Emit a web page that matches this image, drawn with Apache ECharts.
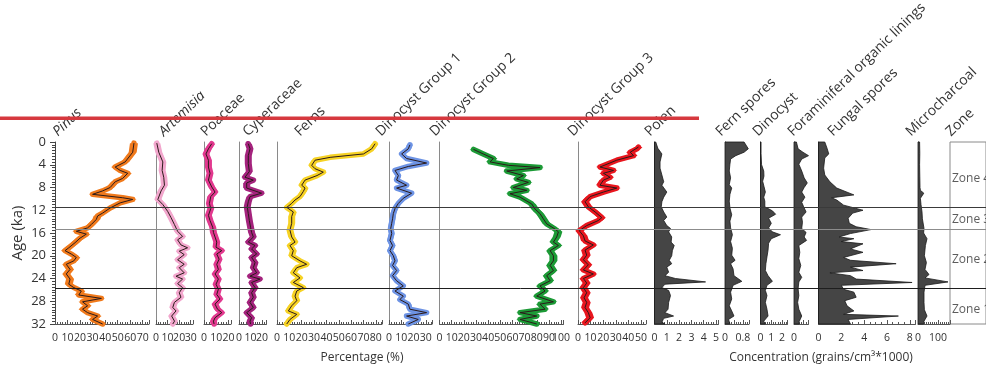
<!DOCTYPE html>
<html><head><meta charset="utf-8">
<script src="https://cdn.jsdelivr.net/npm/echarts/dist/echarts.min.js"></script>
<style>html,body{margin:0;padding:0;background:#fff}#c{width:986px;height:369px}</style>
</head><body><div id="c"></div>
<script>
// ---------- DATA (age in ka, value) ----------
const pinusAge = [0.2,1.8,3.5,4.4,5.0,5.5,6.4,7.0,8.0,8.6,9.2,9.8,10.1,10.7,11.6,12.5,13.0,13.6,14.5,15.1,15.7,16.2,16.9,17.7,18.6,19.1,19.7,20.3,20.9,21.5,22.4,23.2,24.1,25.0,25.6,26.2,26.9,27.5,28.1,28.8,29.4,30.0,30.6,31.2,32.0];
const pinusVal = [63,62,56,48,52,58,54,48,44,38,30,54,62,52,44,38,34,33,29,26,17,25,20,16,11,8,13,17,15,9,12,9,12,11,15,21,19,37,22,26,22,26,34,30,38];

const artemisiaAge = [0.2,1.8,3.5,5.0,6.2,7.6,8.6,10.1,11.0,12.2,13.3,14.5,15.7,16.6,17.2,18.1,18.6,19.2,19.8,20.7,21.5,22.1,23.0,23.6,24.1,24.9,25.6,26.5,27.3,28.2,29.1,29.7,30.6,31.5,32.0];
const artemisiaVal = [0.7,2.4,5.9,5.3,6.7,7.3,4.4,1.6,5.9,10.1,13,15.9,18.7,23,18.7,21.6,27.3,20.1,24.4,18.7,24.4,20.1,24.4,17.3,23,18.7,23,20.1,21.6,15.9,14.5,17.3,13.5,16,14.5];

const poaceaeAge = [0.3,1.2,2.1,3.2,4.4,5.5,6.7,7.9,8.8,9.6,10.8,11.7,12.9,13.8,15.0,15.9,16.7,17.6,18.5,19.1,19.7,20.6,21.5,22.4,23.2,24.1,25.0,25.9,26.8,27.6,28.5,29.4,30.0,30.9,31.5,32.0];
const poaceaeVal = [6.3,3.6,1.6,3.6,3.6,4.9,3.6,6.3,9,5.5,4.4,5.5,3.6,4.9,7.1,7.7,9,10.4,9.8,14.5,10.4,12.3,10.4,11.7,9,11.7,9.8,11.7,10.4,13,9,11,14.5,9,7.7,8.2];

const cyperaceaeAge = [0.3,1.2,2.4,3.8,5.2,6.2,6.7,7.2,8.1,9.0,9.6,10.5,11.4,12.6,13.8,15.0,15.9,16.7,17.6,18.2,18.8,19.7,20.3,21.2,22.1,23.0,23.6,24.1,24.7,25.6,26.5,27.3,28.2,29.1,30.0,30.9,31.5,32.0];
const cyperaceaeVal = [8.1,9.6,8.1,8.1,9,5.2,12.5,6.7,6.7,19.7,9.6,8.1,7.2,8.1,9,10.1,11,12.5,8.1,14,11,15.4,11,14,12.5,15.4,9.6,18.3,11,14,11,12.5,9.6,12.5,6.7,11,9.6,10.1];

const fernsAge = [0.3,1.2,2.1,2.7,3.2,4.1,4.7,5.3,5.9,6.7,7.6,8.1,8.7,9.6,10.2,10.8,11.5,12.3,13.1,14.3,15.5,16.7,17.6,18.2,19.1,20.0,20.9,21.5,22.1,23.0,23.9,24.7,25.6,26.2,27.1,27.9,28.8,29.7,30.3,31.2,32.0];
const fernsVal = [79.4,76.7,70,43,30.8,28.1,30.8,37.5,32.4,22.7,20,22.7,21.3,18.6,14.6,11.9,7.9,13.2,11.9,11.9,10.5,11.9,14.6,10.5,13.2,11.9,18.6,24,16,13.2,18.6,13.2,21.3,16,14.6,16,11.9,9.2,16,10.5,7.9];

const dino1Age = [0.5,1.2,2.1,2.9,3.7,4.3,5.0,5.9,6.7,7.6,8.1,9.0,9.9,10.8,11.7,12.6,13.5,14.3,15.2,16.1,17.3,18.2,19.1,20.0,20.9,21.7,22.6,23.5,24.4,25.3,26.2,27.1,27.7,28.5,29.4,30.0,30.6,31.2,32.0];
const dino1Val = [17,15.7,10.3,14.3,30.6,15.7,4.9,7.6,6.2,14.3,6.2,18.4,11.6,7.6,4.9,3.5,2.9,2.2,1.4,2.2,0.8,2.9,0.8,3.5,4.9,2.9,6.2,2.9,6.2,11.6,4.9,11.6,8.9,15.7,17,30.6,14.3,23.8,15.7];

const dino2Age = [1.3,2.1,2.9,3.5,4.1,4.5,5.1,5.9,6.5,7.1,8.0,8.5,9.1,9.7,10.9,11.8,12.6,13.5,14.4,15.3,15.8,16.7,17.6,18.2,19.1,20.0,20.9,21.7,22.6,23.5,24.4,25.3,26.2,27.1,28.1,28.5,29.4,30.0,30.6,31.2,32.0];
const dino2Val = [28,36,44.3,41.6,56.6,82.7,55.3,69,63.5,73.1,60.7,71.8,58,66.3,75.9,78.6,82.7,85.4,88.2,95,97.8,96.4,93.7,97.8,91,93.7,93.7,91,93.7,88.2,91,82.7,86.8,80,93.7,82.7,86.8,66.3,80,66.3,80];

const dino3Age = [0.9,1.2,1.8,2.4,3.2,4.4,5.0,5.5,6.2,6.7,7.6,8.1,8.8,9.6,10.5,11.4,12.3,13.3,13.8,14.7,15.6,16.5,17.4,18.1,19.0,19.9,20.7,21.6,22.5,23.2,24.0,24.8,25.6,26.5,27.4,28.2,29.1,30.0,30.9,31.8];
const dino3Val = [48,46.8,41.5,44.1,30.8,17.5,28.2,20.2,25.5,20.2,17.5,30.8,20.2,9.6,5.6,8.2,13.6,18.9,16.2,6.9,1,4.3,5.6,12.2,5.6,6.9,4.3,8.2,4.3,12.2,4.3,6.9,4.3,6.9,4.8,6.9,5.6,8.2,9.6,5.6];

const polenAge = [0,1.1,2.1,3.5,4.6,5.8,7.0,7.6,8.8,9.7,10.5,11.4,12.3,13.2,13.8,14.7,15.2,15.8,16.7,17.6,18.2,19.1,20.0,20.8,21.4,22.0,22.9,23.5,24.0,24.6,25.0,25.6,26.1,27.0,28.2,29.4,30.0,30.6,31.0,31.7,32.0];
const polenVal = [0.1,0.27,0.6,0.45,0.45,0.6,0.75,0.6,1.0,0.75,0.6,0.55,0.75,1.0,0.75,1.0,1.3,1.15,1.4,1.35,1.6,1.45,1.4,1.2,1.4,1.0,1.15,0.85,1.7,4.15,0.85,0.6,1.15,1.3,1.15,1.1,0.85,1.55,0.75,0.6,0.85];

const fernSporesAge = [0,1.2,1.8,2.4,3.0,3.9,5.1,6.3,7.5,8.1,9.2,10.4,11.6,12.8,13.9,15.1,16.3,17.5,18.7,19.9,20.8,21.4,22.3,23.5,24.5,25.2,26.4,27.6,28.8,29.7,30.6,31.2,32.0];
const fernSporesVal = [0.85,1.04,0.85,0.48,0.25,0.22,0.19,0.25,0.19,0.3,0.22,0.19,0.22,0.3,0.22,0.25,0.33,0.25,0.33,0.3,0.45,0.25,0.36,0.4,0.75,0.36,0.25,0.3,0.19,0.3,0.4,0.16,0.22];

const dinoConcAge = [0,2,4,5.1,6.0,6.9,7.8,8.8,9.7,10.4,11.4,12.1,12.7,13.4,14.3,15.1,15.8,16.3,17.0,17.8,19.0,20.2,21.4,22.6,23.5,24.5,25.2,26.1,27.0,28.2,29.4,30.6,31.5,32.0];
const dinoConcVal = [0.05,0.05,0.1,0.3,0.32,0.2,0.32,0.45,0.3,0.4,0.4,1.1,1.4,0.75,1.0,0.75,1.1,1.85,1.0,0.75,0.7,0.6,0.5,0.45,0.7,1.1,0.6,0.45,0.6,0.45,0.6,0.7,0.3,0.45];

const foramAge = [0,1.2,1.8,2.4,3.0,3.9,5.1,6.3,7.2,8.0,8.8,9.7,10.6,11.4,12.3,13.2,14.1,15.2,15.9,16.7,17.3,18.2,19.4,20.5,21.7,22.9,23.8,24.6,25.8,27.0,28.2,29.4,30.6,31.7,32.0];
const foramVal = [0.1,0.17,0.37,0.6,0.32,0.2,0.32,0.42,0.55,0.42,0.32,0.45,0.32,0.4,0.5,0.32,0.35,0.32,0.5,0.42,0.52,0.2,0.24,0.2,0.28,0.2,0.32,0.2,0.17,0.2,0.15,0.2,0.32,0.2,0.22];

const fungalAge = [0,1.1,2.1,2.8,4.6,5.8,7.0,8.1,9.3,9.8,10.2,11.1,12.0,12.5,13.4,14.3,14.9,15.4,16.1,16.7,17.0,17.5,17.9,18.8,19.4,20.3,20.8,21.4,22.0,22.6,23.0,23.5,24.1,24.7,25.2,25.9,26.4,27.3,27.9,28.8,29.7,30.3,30.6,31.2,32.0];
const fungalVal = [0.55,0.75,0.9,0.55,0.45,0.55,1.0,1.6,3.1,1.15,1.6,2.2,3.9,3.0,2.6,2.7,3.3,4.6,2.8,1.8,3.1,2.0,3.9,2.8,3.9,2.2,2.8,6.8,2.8,3.9,1.0,2.8,3.3,8.2,2.0,2.2,3.1,3.3,2.3,2.5,3.1,2.2,7.0,2.6,2.8];

const charcoalAge = [0,2,4,6,8,8.5,9.0,9.9,11,12.3,13.5,15.2,16,17.0,18.2,20.0,21.2,22.4,23.3,23.9,24.6,25.2,26.4,28.2,29.5,30.6,31.5,32.0];
const charcoalVal = [8,9,8,9,10,12,29,12,15,20,22,30,28,45,37,32,42,35,55,35,150,35,30,30,32,45,30,28];

const zoneBounds = [11.5, 15.4, 25.8];
const zoneNames = ['Zone 4','Zone 3','Zone 2','Zone 1'];
const zoneLabelAges = [6.4, 13.6, 20.7, 29.5];
const yTicks = [0,4,8,12,16,20,24,28,32];

// ---------- LAYOUT ----------
const FONT = "'Open Sans', sans-serif";
const TOP = 142, H = 182;
const panels = [
  {name:'Pinus', italic:true, ages:pinusAge, vals:pinusVal, kind:'band', color:'#f07a1c', hw:4, left:55, width:94, max:75, interval:10, minor:5, labelX:60},
  {name:'Artemisia', italic:true, ages:artemisiaAge, vals:artemisiaVal, kind:'band', color:'#f2a7cd', hw:3.5, left:156, width:37, max:32, interval:10, minor:5, labelX:166},
  {name:'Poaceae', ages:poaceaeAge, vals:poaceaeVal, kind:'band', color:'#e2398f', hw:3.5, left:204, width:27, max:22, interval:10, minor:5, labelX:208},
  {name:'Cyperaceae', ages:cyperaceaeAge, vals:cyperaceaeVal, kind:'band', color:'#a4237d', hw:3.5, left:239, width:27.5, max:24, interval:10, minor:5, labelX:250},
  {name:'Ferns', ages:fernsAge, vals:fernsVal, kind:'band', color:'#f6d224', hw:3.5, left:277, width:105, max:85, interval:10, minor:5, labelX:302},
  {name:'Dinocyst Group 1', ages:dino1Age, vals:dino1Val, kind:'band', color:'#6d93e4', hw:3, left:389, width:43, max:35, interval:10, minor:5, labelX:383},
  {name:'Dinocyst Group 2', ages:dino2Age, vals:dino2Val, kind:'band', color:'#1c9a36', hw:4, left:439.5, width:124, max:102, interval:10, minor:5, labelX:437},
  {name:'Dinocyst Group 3', ages:dino3Age, vals:dino3Val, kind:'band', color:'#e8161e', hw:4, left:578, width:68, max:54, interval:10, minor:5, labelX:575},
  {name:'Polen', ages:polenAge, vals:polenVal, kind:'area', left:654.5, width:64, max:5.2, interval:1, minor:5, labelX:652},
  {name:'Fern spores', ages:fernSporesAge, vals:fernSporesVal, kind:'area', left:725, width:24, max:1.07, interval:0.4, minor:4, labelX:723},
  {name:'Dinocyst', ages:dinoConcAge, vals:dinoConcVal, kind:'area', left:760.5, width:27, max:2.5, interval:1, minor:5, labelX:760},
  {name:'Foraminiferal organic linings', ages:foramAge, vals:foramVal, kind:'area', left:794, width:14.5, max:0.6, interval:0.4, minor:4, labelX:795},
  {name:'Fungal spores', ages:fungalAge, vals:fungalVal, kind:'area', left:818.5, width:97, max:8.5, interval:2, minor:4, labelX:835},
  {name:'Microcharcoal', ages:charcoalAge, vals:charcoalVal, kind:'area', left:918, width:32, max:160, interval:100, minor:10, labelX:913}
];

function isMult(v, step){ const r = v/step; return Math.abs(r-Math.round(r)) < 1e-6; }
function fmt(v){ return String(+v.toFixed(2)); }

const grids = [], xAxes = [], yAxes = [], series = [];
panels.forEach((p, i) => {
  grids.push({left:p.left, top:TOP, width:p.width, height:H});
  xAxes.push({
    type:'value', gridIndex:i, min:0, max:p.max, interval:p.interval, position:'bottom',
    axisLine:{show:true, onZero:false, lineStyle:{color:'#555', width:1}},
    axisTick:{show:true, inside:true, length:4, lineStyle:{color:'#555'}},
    minorTick:{show:true, splitNumber:p.minor, length:2, lineStyle:{color:'#555'}},
    splitLine:{show:false}, minorSplitLine:{show:false},
    axisLabel:{fontSize:10.5, color:'#333', fontFamily:FONT, margin:9, showMinLabel:true, showMaxLabel:true, hideOverlap:false,
      formatter: v => isMult(v, p.interval) ? fmt(v) : ''}
  });
  const y = {
    type:'value', gridIndex:i, inverse:true, min:0, max:32,
    axisLine:{show:true, onZero:false, lineStyle:{color: p.kind==='area' ? '#333' : '#8a8a8a', width:1}},
    axisTick:{show:false}, axisLabel:{show:false}, splitLine:{show:false}
  };
  if (i === 0) {
    Object.assign(y, {
      interval:4,
      axisLine:{show:true, onZero:false, lineStyle:{color:'#444', width:1}},
      axisTick:{show:true, length:5, lineStyle:{color:'#444'}},
      minorTick:{show:true, splitNumber:8, length:3, lineStyle:{color:'#444'}},
      axisLabel:{show:true, fontSize:13, color:'#333', fontFamily:FONT, margin:9, showMinLabel:true, showMaxLabel:true,
        formatter: v => yTicks.indexOf(v) >= 0 ? String(v) : ''},
      name:'Age (ka)', nameLocation:'middle', nameGap:30,
      nameTextStyle:{fontSize:15, color:'#333', fontFamily:FONT}
    });
  }
  yAxes.push(y);
  const data = p.ages.map((a, k) => [p.vals[k], a]);
  if (p.kind === 'band') {
    series.push({
      type:'custom', xAxisIndex:i, yAxisIndex:i, data, encode:{x:0, y:1}, silent:true, z:2,
      renderItem: (params, api) => {
        if (params.dataIndex !== 0) return;
        const pts = data.map(d => api.coord(d));
        const right = pts.map(q => [q[0] + p.hw, q[1]]);
        const left = pts.slice().reverse().map(q => [q[0] - p.hw, q[1]]);
        return {type:'group', children:[
          {type:'polygon', shape:{points: right.concat(left)}, style:{fill:p.color}},
          {type:'polyline', shape:{points: pts}, style:{stroke:p.color, lineWidth:5.5, fill:null, lineJoin:'round', lineCap:'round'}}
        ]};
      }
    });
    series.push({
      type:'line', xAxisIndex:i, yAxisIndex:i, data, symbol:'none', silent:true, z:3,
      lineStyle:{color:'#2b1a1a', width:1}, clip:false
    });
  } else {
    series.push({
      type:'custom', xAxisIndex:i, yAxisIndex:i, data, encode:{x:0, y:1}, silent:true, z:2,
      renderItem: (params, api) => {
        if (params.dataIndex !== 0) return;
        const pts = data.map(d => api.coord(d));
        const start = api.coord([0, data[0][1]]);
        const end = api.coord([0, data[data.length-1][1]]);
        return {type:'polygon', shape:{points: [start].concat(pts, [end])},
          style:{fill:'#454545', stroke:'#1a1a1a', lineWidth:0.8}};
      }
    });
  }
});

// zone lines grid
const zi = panels.length;
grids.push({left:55, top:TOP, width:931, height:H});
xAxes.push({type:'value', gridIndex:zi, min:0, max:1, show:false});
yAxes.push({type:'value', gridIndex:zi, inverse:true, min:0, max:32, show:false});
const zoneLineColors = ['#3a3a3a', '#8c8c8c', '#1e1e1e'];
series.push({
  type:'line', xAxisIndex:zi, yAxisIndex:zi, data:[], z:10, silent:true,
  markLine:{symbol:['none','none'], silent:true, animation:false, label:{show:false},
    data: zoneBounds.map((b, k) => ({yAxis:b, lineStyle:{color:zoneLineColors[k], width:1, type:'solid'}}))}
});

// zone box grid
const bi = zi + 1;
grids.push({left:950, top:TOP, width:60, height:H, show:true, borderColor:'#8a8a8a', borderWidth:1, backgroundColor:'transparent'});
xAxes.push({type:'value', gridIndex:bi, min:0, max:1, show:false});
yAxes.push({type:'value', gridIndex:bi, inverse:true, min:0, max:32, show:false});
series.push({
  type:'scatter', xAxisIndex:bi, yAxisIndex:bi, symbolSize:0, silent:true,
  data: zoneLabelAges.map((a, k) => ({value:[0, a], name:zoneNames[k]})),
  label:{show:true, position:'right', distance:2, formatter:'{b}', fontSize:12, color:'#333', fontFamily:FONT}
});

// text graphics
const ROT = 44 * Math.PI / 180;
const graphics = panels.map(p => ({
  type:'text', x:p.labelX, y:139, rotation:ROT, z:50,
  style:{text:p.name, fontSize:14, fontFamily:FONT, fontStyle:p.italic ? 'italic' : 'normal', fill:'#333',
    align:'left', verticalAlign:'bottom', textAlign:'left', textVerticalAlign:'bottom'}
}));
graphics.push({type:'text', x:953, y:139, rotation:ROT, z:50,
  style:{text:'Zone', fontSize:14, fontFamily:FONT, fill:'#333', align:'left', verticalAlign:'bottom', textAlign:'left', textVerticalAlign:'bottom'}});
graphics.push({type:'text', x:362, y:358, z:50,
  style:{text:'Percentage (%)', fontSize:12, fontFamily:FONT, fill:'#333', align:'center', verticalAlign:'middle', textAlign:'center', textVerticalAlign:'middle'}});
graphics.push({type:'text', x:821, y:358, z:50,
  style:{text:'Concentration (grains/cm\u00b3*1000)', fontSize:12, fontFamily:FONT, fill:'#333', align:'center', verticalAlign:'middle', textAlign:'center', textVerticalAlign:'middle'}});
graphics.push({type:'rect', z:100, shape:{x:0, y:116.5, width:699, height:3.5}, style:{fill:'#d6383e'}});

const chart = echarts.init(document.getElementById('c'), null, {renderer:'canvas'});
chart.setOption({
  backgroundColor:'#ffffff',
  animation:false,
  textStyle:{fontFamily:FONT},
  grid:grids, xAxis:xAxes, yAxis:yAxes, series, graphic:graphics
});
</script></body></html>
